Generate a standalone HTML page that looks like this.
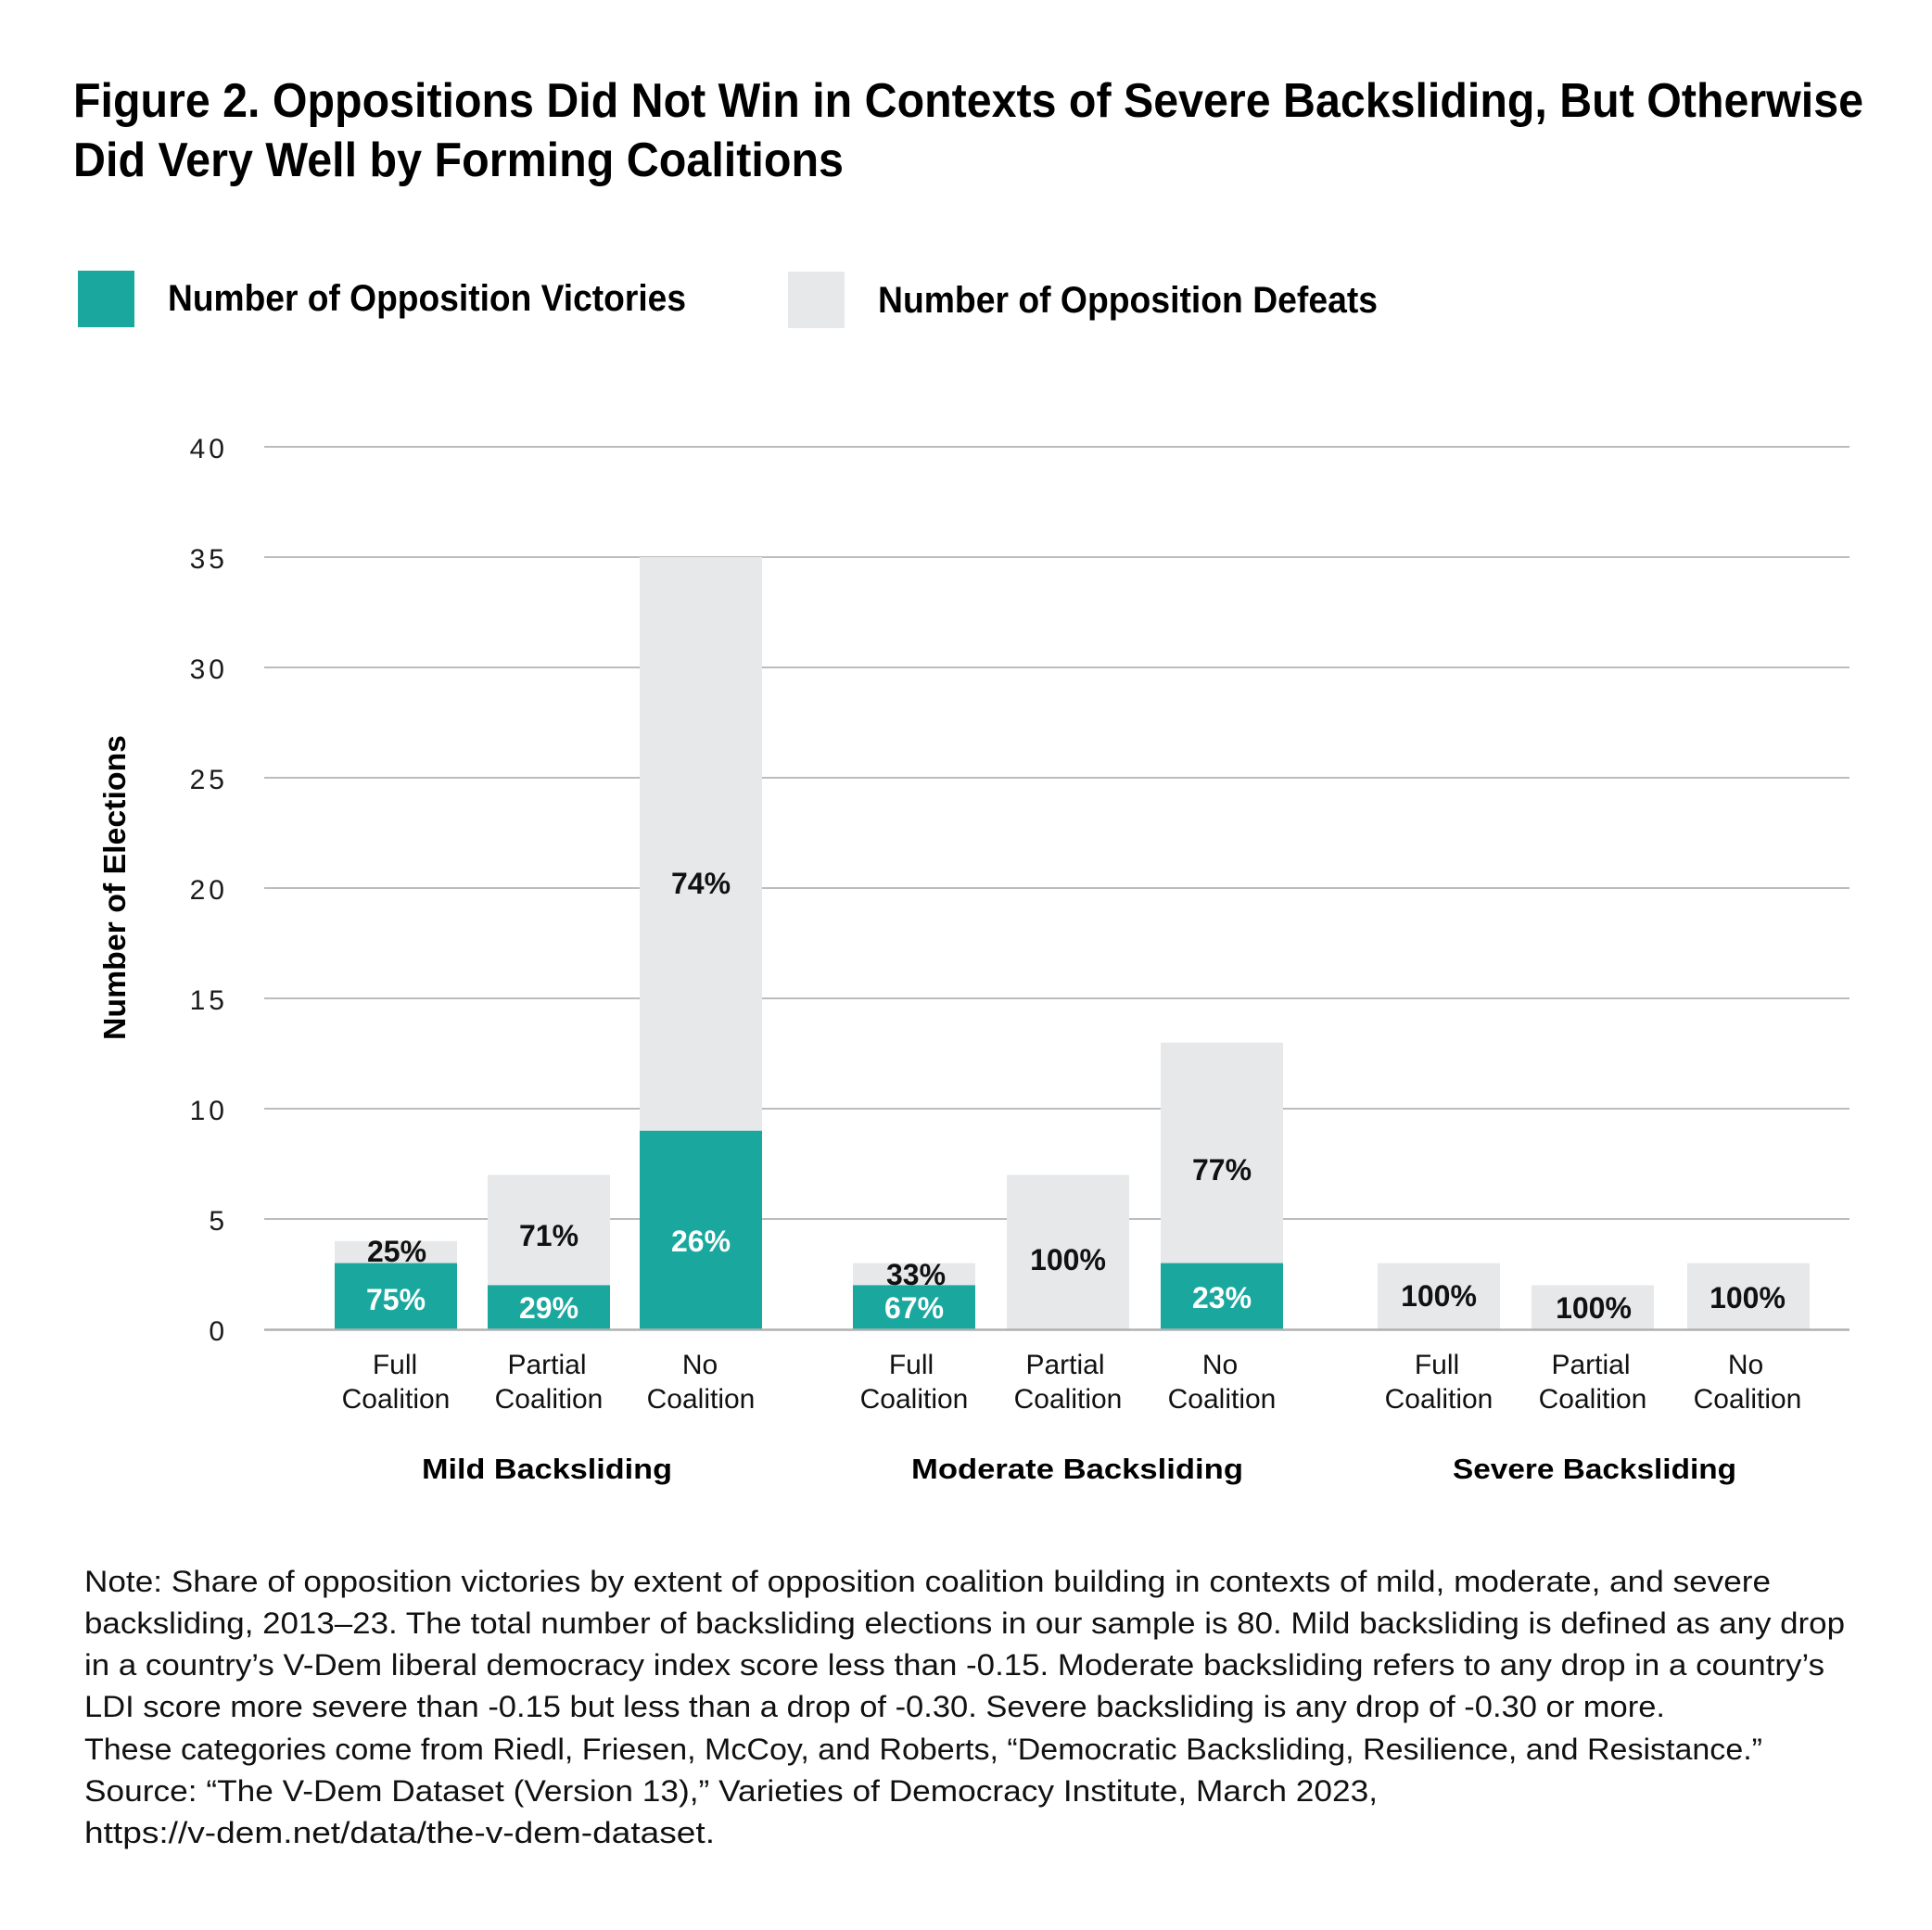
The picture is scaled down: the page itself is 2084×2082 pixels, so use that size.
<!DOCTYPE html>
<html>
<head>
<meta charset="utf-8">
<style>
  html, body { margin: 0; padding: 0; background: #ffffff; }
  svg { display: block; }
  text { font-family: "Liberation Sans", Arial, sans-serif; }
</style>
</head>
<body>
<svg xmlns="http://www.w3.org/2000/svg" width="2084" height="2082" viewBox="0 0 2084 2082">
  <rect x="0" y="0" width="2084" height="2082" fill="#ffffff"/>

  <!-- Title -->
  <text x="79" y="126" font-size="52" font-weight="700" fill="#000" textLength="1931" lengthAdjust="spacingAndGlyphs">Figure 2. Oppositions Did Not Win in Contexts of Severe Backsliding, But Otherwise</text>
  <text x="79" y="190" font-size="52" font-weight="700" fill="#000" textLength="831" lengthAdjust="spacingAndGlyphs">Did Very Well by Forming Coalitions</text>

  <!-- Legend -->
  <rect x="84" y="292" width="61" height="61" fill="#1aa89e"/>
  <text x="181" y="335" font-size="40" font-weight="700" fill="#000" textLength="559" lengthAdjust="spacingAndGlyphs">Number of Opposition Victories</text>
  <rect x="850" y="293" width="61" height="61" fill="#e7e8ea"/>
  <text x="947" y="337" font-size="40" font-weight="700" fill="#000" textLength="539" lengthAdjust="spacingAndGlyphs">Number of Opposition Defeats</text>

  <!-- Gridlines -->
  <g stroke="#bcbcbc" stroke-width="2">
    <line x1="285" y1="482" x2="1995" y2="482"/>
    <line x1="285" y1="601" x2="1995" y2="601"/>
    <line x1="285" y1="720" x2="1995" y2="720"/>
    <line x1="285" y1="839" x2="1995" y2="839"/>
    <line x1="285" y1="958" x2="1995" y2="958"/>
    <line x1="285" y1="1077" x2="1995" y2="1077"/>
    <line x1="285" y1="1196" x2="1995" y2="1196"/>
    <line x1="285" y1="1315" x2="1995" y2="1315"/>
  </g>

  <!-- Y tick labels -->
  <g font-size="30" fill="#1a1a1a" text-anchor="end" letter-spacing="4">
    <text x="246" y="494">40</text>
    <text x="246" y="613">35</text>
    <text x="246" y="732">30</text>
    <text x="246" y="851">25</text>
    <text x="246" y="970">20</text>
    <text x="246" y="1089">15</text>
    <text x="246" y="1208">10</text>
    <text x="246" y="1327">5</text>
    <text x="246" y="1446">0</text>
  </g>

  <!-- Y axis title -->
  <text transform="translate(135,957.5) rotate(-90)" x="0" y="0" text-anchor="middle" font-size="33" font-weight="700" fill="#000" textLength="329" lengthAdjust="spacingAndGlyphs">Number of Elections</text>

  <!-- Bars: gray (total) then teal (victories) -->
  <g fill="#e7e8ea">
    <rect x="361" y="1338.8" width="132" height="95.2"/>
    <rect x="526" y="1267.4" width="132" height="166.6"/>
    <rect x="690" y="601" width="132" height="833"/>
    <rect x="920" y="1362.6" width="132" height="71.4"/>
    <rect x="1086" y="1267.4" width="132" height="166.6"/>
    <rect x="1252" y="1124.6" width="132" height="309.4"/>
    <rect x="1486" y="1362.6" width="132" height="71.4"/>
    <rect x="1652" y="1386.4" width="132" height="47.6"/>
    <rect x="1820" y="1362.6" width="132" height="71.4"/>
  </g>
  <g fill="#1aa89e">
    <rect x="361" y="1362.6" width="132" height="71.4"/>
    <rect x="526" y="1386.4" width="132" height="47.6"/>
    <rect x="690" y="1219.8" width="132" height="214.2"/>
    <rect x="920" y="1386.4" width="132" height="47.6"/>
    <rect x="1252" y="1362.6" width="132" height="71.4"/>
  </g>

  <!-- Zero line -->
  <line x1="285" y1="1434.5" x2="1995" y2="1434.5" stroke="#b0b0b0" stroke-width="2.5"/>

  <!-- Percent labels -->
  <g font-size="32" font-weight="700" text-anchor="middle">
    <text x="428" y="1361" fill="#111">25%</text>
    <text x="427" y="1413" fill="#fff">75%</text>
    <text x="592" y="1344" fill="#111">71%</text>
    <text x="592" y="1422" fill="#fff">29%</text>
    <text x="756" y="964" fill="#111">74%</text>
    <text x="756" y="1350" fill="#fff">26%</text>
    <text x="988" y="1386" fill="#111">33%</text>
    <text x="986" y="1422" fill="#fff">67%</text>
    <text x="1152" y="1370" fill="#111">100%</text>
    <text x="1318" y="1273" fill="#111">77%</text>
    <text x="1318" y="1411" fill="#fff">23%</text>
    <text x="1552" y="1409" fill="#111">100%</text>
    <text x="1719" y="1422" fill="#111">100%</text>
    <text x="1885" y="1411" fill="#111">100%</text>
  </g>

  <!-- Category labels -->
  <g font-size="30" fill="#111" text-anchor="middle">
    <text x="426" y="1482">Full</text><text x="427" y="1519">Coalition</text>
    <text x="590" y="1482">Partial</text><text x="592" y="1519">Coalition</text>
    <text x="755" y="1482">No</text><text x="756" y="1519">Coalition</text>
    <text x="983" y="1482">Full</text><text x="986" y="1519">Coalition</text>
    <text x="1149" y="1482">Partial</text><text x="1152" y="1519">Coalition</text>
    <text x="1316" y="1482">No</text><text x="1318" y="1519">Coalition</text>
    <text x="1550" y="1482">Full</text><text x="1552" y="1519">Coalition</text>
    <text x="1716" y="1482">Partial</text><text x="1718" y="1519">Coalition</text>
    <text x="1883" y="1482">No</text><text x="1885" y="1519">Coalition</text>
  </g>

  <!-- Group labels -->
  <g font-size="31" font-weight="700" fill="#000" text-anchor="middle">
    <text x="590" y="1595" textLength="270" lengthAdjust="spacingAndGlyphs">Mild Backsliding</text>
    <text x="1162" y="1595" textLength="358" lengthAdjust="spacingAndGlyphs">Moderate Backsliding</text>
    <text x="1720" y="1595" textLength="306" lengthAdjust="spacingAndGlyphs">Severe Backsliding</text>
  </g>

  <!-- Note -->
  <g font-size="32" fill="#111">
    <text x="91" y="1717" textLength="1819" lengthAdjust="spacingAndGlyphs">Note: Share of opposition victories by extent of opposition coalition building in contexts of mild, moderate, and severe</text>
    <text x="91" y="1762" textLength="1899" lengthAdjust="spacingAndGlyphs">backsliding, 2013–23. The total number of backsliding elections in our sample is 80. Mild backsliding is defined as any drop</text>
    <text x="91" y="1807" textLength="1877" lengthAdjust="spacingAndGlyphs">in a country’s V-Dem liberal democracy index score less than -0.15. Moderate backsliding refers to any drop in a country’s</text>
    <text x="91" y="1852" textLength="1705" lengthAdjust="spacingAndGlyphs">LDI score more severe than -0.15 but less than a drop of -0.30. Severe backsliding is any drop of -0.30 or more.</text>
    <text x="91" y="1898" textLength="1810" lengthAdjust="spacingAndGlyphs">These categories come from Riedl, Friesen, McCoy, and Roberts, “Democratic Backsliding, Resilience, and Resistance.”</text>
    <text x="91" y="1943" textLength="1395" lengthAdjust="spacingAndGlyphs">Source: “The V-Dem Dataset (Version 13),” Varieties of Democracy Institute, March 2023,</text>
    <text x="91" y="1988" textLength="680" lengthAdjust="spacingAndGlyphs">https://v-dem.net/data/the-v-dem-dataset.</text>
  </g>
</svg>
</body>
</html>
